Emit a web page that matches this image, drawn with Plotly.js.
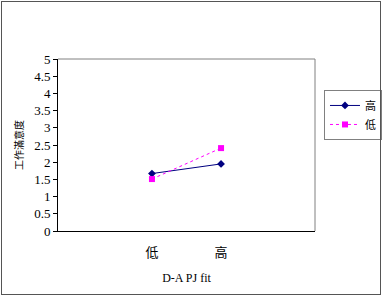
<!DOCTYPE html>
<html><head><meta charset="utf-8">
<script src="https://cdn.plot.ly/plotly-3.0.1.min.js"></script>
<style>html,body{margin:0;padding:0;background:#fff;}#wrap{position:relative;width:383px;height:296px;}#chart{width:383px;height:296px;}
#frame{position:absolute;left:1px;top:1px;width:378px;height:292px;border:1.5px solid #555;pointer-events:none;}</style>
</head><body><div id="wrap"><div id="chart"></div><div id="frame"></div></div>
<script>
const categories = ["低", "高"];
const seriesNames = ["高", "低"];
const series1 = [1.67, 1.95];
const series2 = [1.51, 2.41];
const yTicks = [0, 0.5, 1, 1.5, 2, 2.5, 3, 3.5, 4, 4.5, 5];

const serif = "'Liberation Serif', 'Noto Sans CJK TC', serif";
const cjk = "'Noto Sans CJK TC', serif";
const traces = [
  {x: categories, y: series1, name: seriesNames[0], type: 'scatter', mode: 'lines+markers',
   line: {color: '#000080', width: 1}, marker: {symbol: 'diamond', size: 6, color: '#000080'}},
  {x: categories, y: series2, name: seriesNames[1], type: 'scatter', mode: 'lines+markers',
   line: {color: '#FF00FF', width: 1, dash: 'dot'}, marker: {symbol: 'square', size: 6, color: '#FF00FF'}}
];
const layout = {
  width: 383, height: 296,
  margin: {l: 58, r: 68, t: 59, b: 65, autoexpand: false},
  paper_bgcolor: '#fff', plot_bgcolor: '#fff',
  font: {family: serif, size: 13, color: '#000'},
  showlegend: true,
  legend: {x: 1.035, y: 0.82, xanchor: 'left', yanchor: 'top', bordercolor: '#808080', borderwidth: 1,
           itemwidth: 30, font: {family: cjk, size: 11, color: '#000'}, tracegroupgap: 2},
  xaxis: {type: 'category', range: [-1.36, 2.36], showgrid: false, zeroline: false,
          showline: true, linecolor: '#000', linewidth: 1, mirror: false, ticks: '',
          ticklabelstandoff: 9,
          tickfont: {family: cjk, size: 13, color: '#000'},
          title: {text: 'D-A PJ fit', font: {family: serif, size: 12, color: '#000'}, standoff: 14}},
  yaxis: {range: [0, 5], tickvals: yTicks, ticktext: yTicks.map(String), showgrid: false, zeroline: false,
          showline: true, linecolor: '#000', linewidth: 1, ticks: 'outside', ticklen: 4, tickcolor: '#000',
          tickfont: {family: serif, size: 13, color: '#000'},
          title: {text: '工作滿意度', font: {family: cjk, size: 10, color: '#000'}, standoff: 8}},
  shapes: [
    {type: 'line', xref: 'paper', yref: 'paper', x0: 0, x1: 1, y0: 1, y1: 1, line: {color: '#808080', width: 1}},
    {type: 'line', xref: 'paper', yref: 'paper', x0: 1, x1: 1, y0: 0, y1: 1, line: {color: '#808080', width: 1}}
  ]
};
Plotly.newPlot('chart', traces, layout, {displayModeBar: false, staticPlot: true});
</script></body></html>
